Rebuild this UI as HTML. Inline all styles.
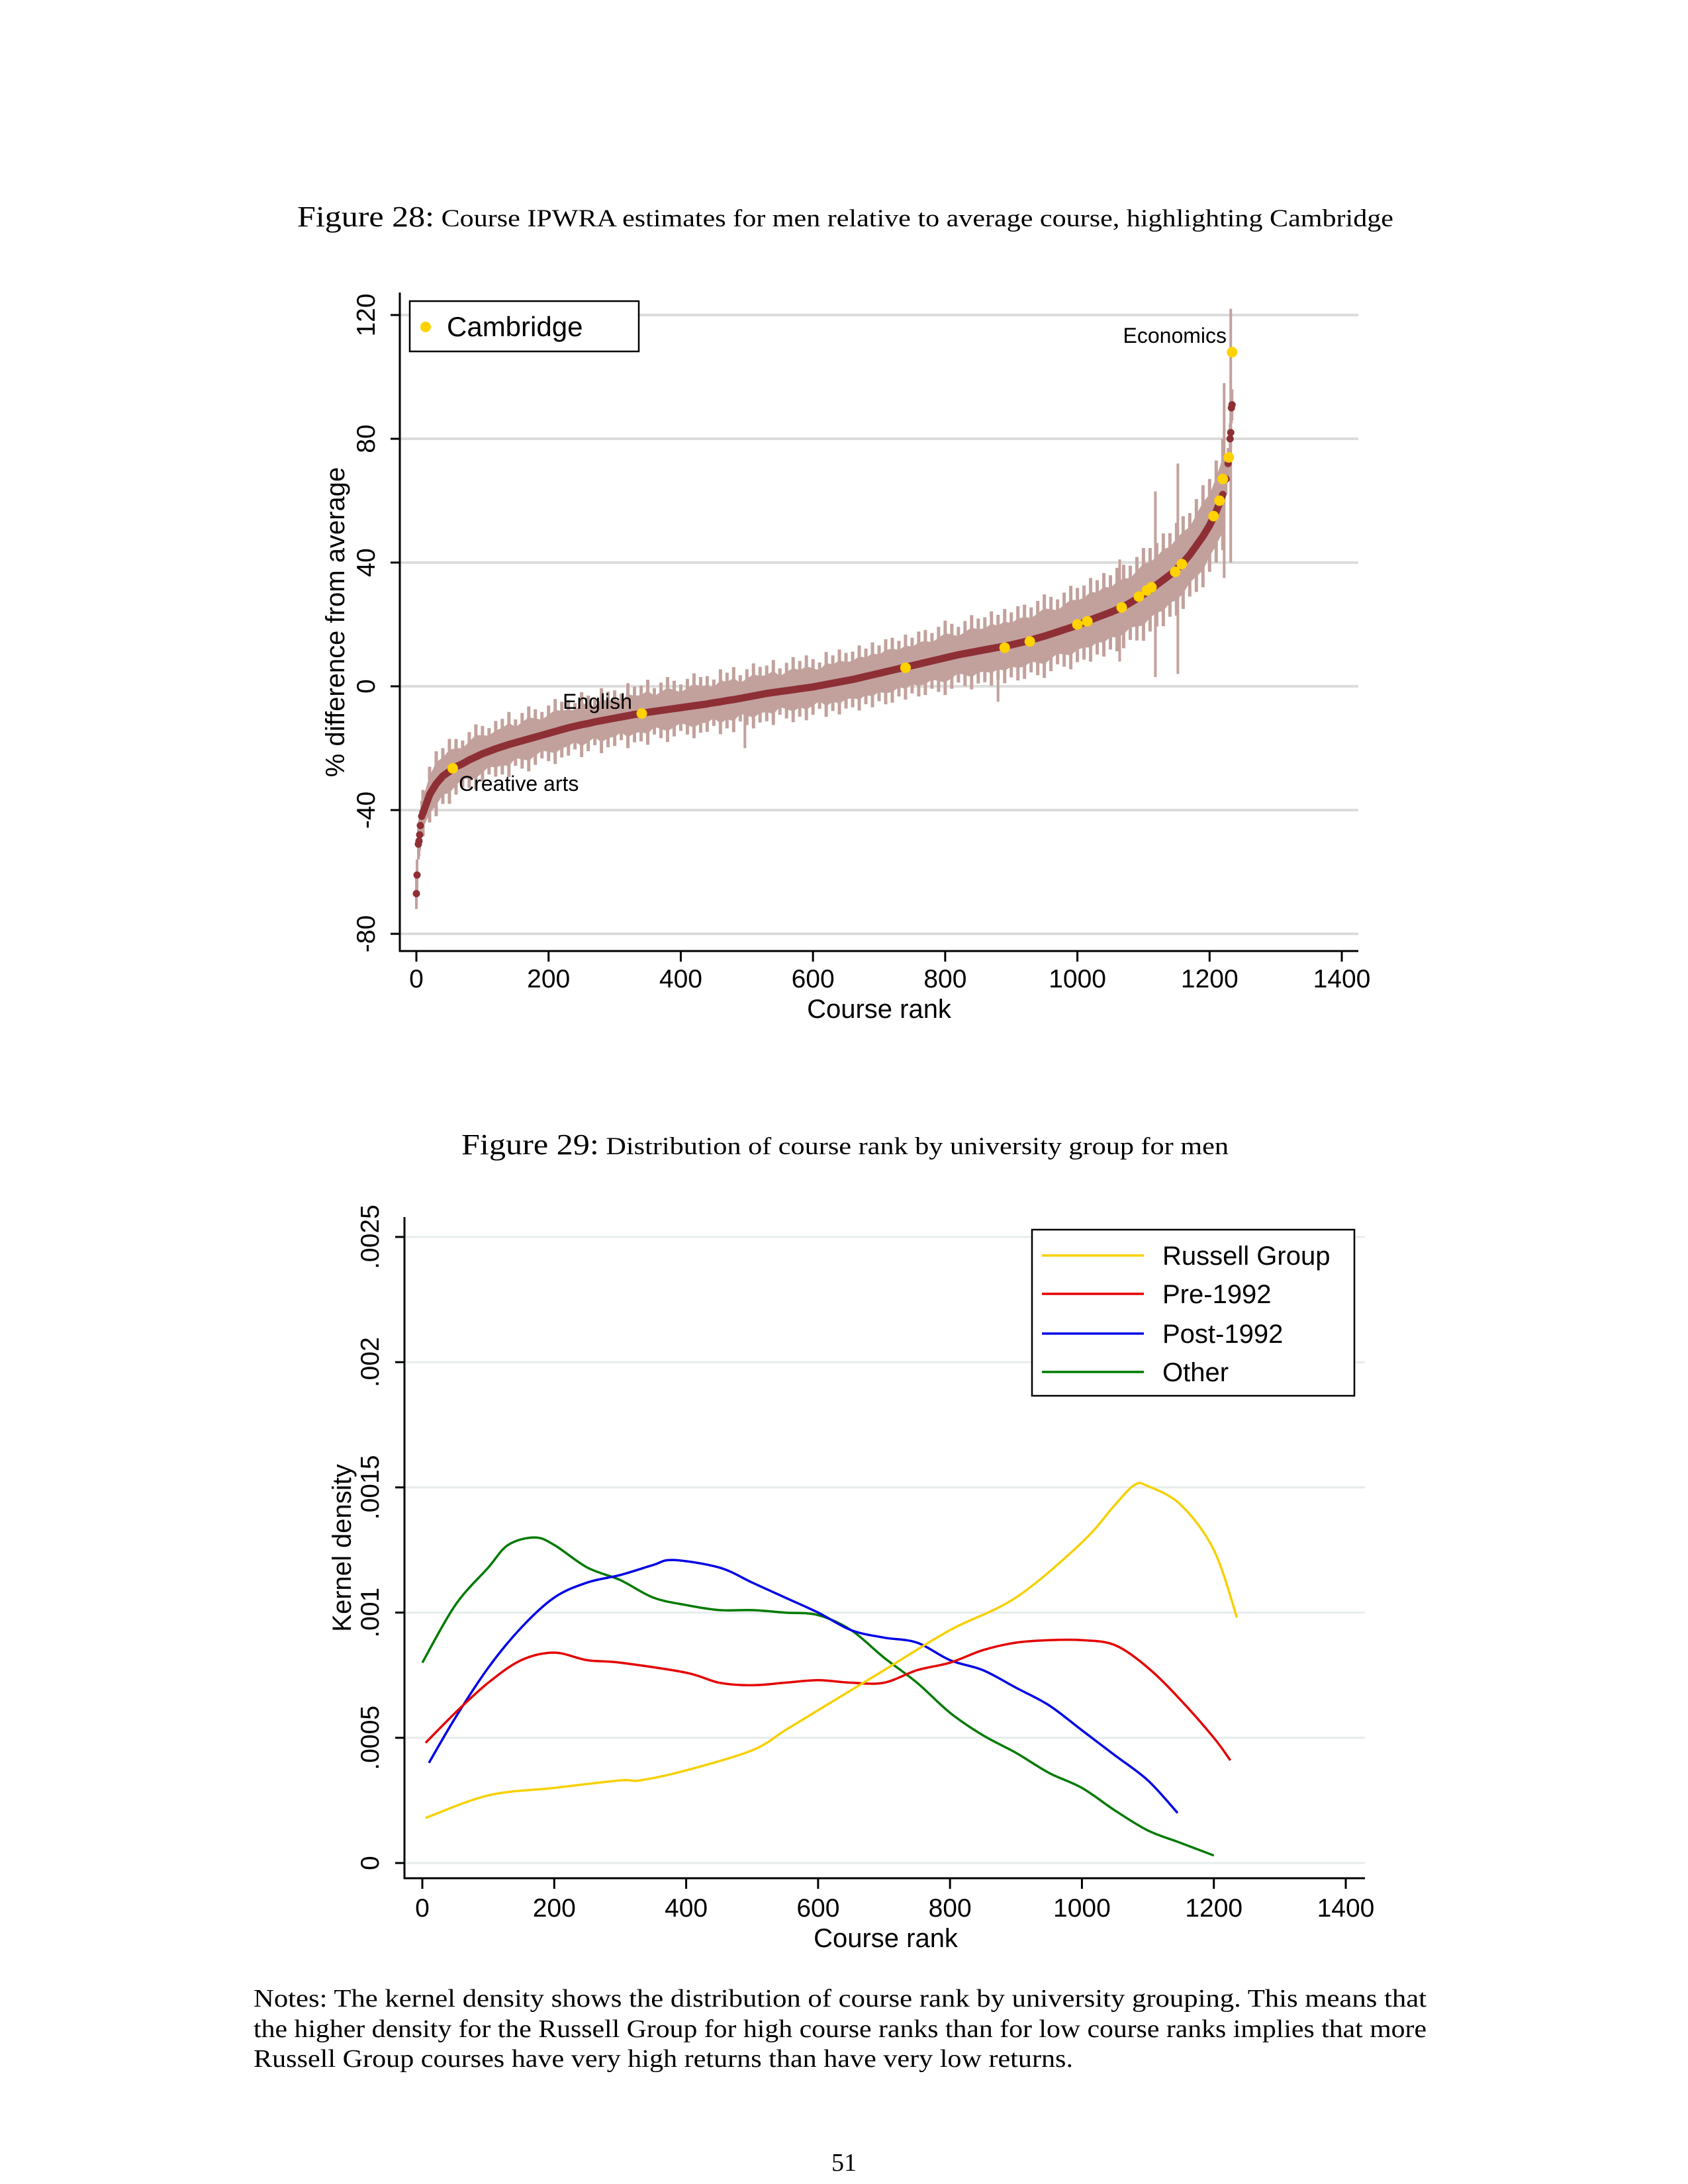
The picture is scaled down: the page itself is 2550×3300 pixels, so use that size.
<!DOCTYPE html>
<html><head><meta charset="utf-8"><style>
html,body{margin:0;padding:0;background:#fff}
svg{display:block}
.serif{font-family:"Liberation Serif",serif}
.sans{font-family:"Liberation Sans",Arial,sans-serif}
</style></head><body>
<svg id="page" width="2550" height="3300" viewBox="0 0 2550 3300" xmlns="http://www.w3.org/2000/svg">
<rect width="2550" height="3300" fill="#fff"/>
<text class="serif" x="449" y="342" textLength="1656" lengthAdjust="spacingAndGlyphs"><tspan font-size="44">Figure 28:</tspan><tspan font-size="37"> Course IPWRA estimates for men relative to average course, highlighting Cambridge</tspan></text>
<g id="c1"></g>
<text class="serif" x="697" y="1744" textLength="1159" lengthAdjust="spacingAndGlyphs"><tspan font-size="44">Figure 29:</tspan><tspan font-size="37"> Distribution of course rank by university group for men</tspan></text>
<g id="c2"></g>
<g class="serif" font-size="38">
<text x="383" y="3032" textLength="1772" lengthAdjust="spacingAndGlyphs">Notes: The kernel density shows the distribution of course rank by university grouping. This means that</text>
<text x="383" y="3078" textLength="1772" lengthAdjust="spacingAndGlyphs">the higher density for the Russell Group for high course ranks than for low course ranks implies that more</text>
<text x="383" y="3123" textLength="1238" lengthAdjust="spacingAndGlyphs">Russell Group courses have very high returns than have very low returns.</text>
</g>
<text class="serif" font-size="38" x="1275" y="3280" text-anchor="middle">51</text>
</svg>
<script>
// ---------- Figure 28 data ----------
const estRanks = [10,20,30,40,50,60,70,80,90,100,110,120,130,140,150,160,170,180,190,200,210,220,230,240,250,260,270,280,290,300,310,320,330,340,350,360,370,380,390,400,410,420,430,440,450,460,470,480,490,500,510,520,530,540,550,560,570,580,590,600,610,620,630,640,650,660,670,680,690,700,710,720,730,740,750,760,770,780,790,800,810,820,830,840,850,860,870,880,890,900,910,920,930,940,950,960,970,980,990,1000,1010,1020,1030,1040,1050,1060,1070,1080,1090,1100,1110,1120,1130,1140,1150,1160,1170,1180,1190,1200,1210,1220];
const estValues = [-41,-35,-31.5,-29,-27.5,-26,-25,-23.8,-22.8,-21.8,-21,-20.2,-19.5,-18.8,-18.2,-17.6,-17,-16.4,-15.8,-15.2,-14.6,-14,-13.4,-12.9,-12.4,-12,-11.5,-11.1,-10.7,-10.3,-9.9,-9.5,-9.1,-8.8,-8.4,-8.1,-7.8,-7.5,-7.2,-6.9,-6.6,-6.3,-6,-5.7,-5.3,-5,-4.6,-4.3,-3.9,-3.5,-3.1,-2.7,-2.3,-2,-1.7,-1.4,-1.1,-0.8,-0.5,-0.2,0.2,0.6,1,1.4,1.8,2.2,2.7,3.2,3.7,4.2,4.7,5.2,5.7,6.2,6.7,7.2,7.7,8.2,8.7,9.2,9.7,10.2,10.6,11,11.4,11.8,12.2,12.6,13,13.4,13.9,14.4,15,15.6,16.2,16.9,17.6,18.3,19,19.8,20.6,21.5,22.3,23.1,23.9,24.8,25.8,27,28.3,29.7,31.2,32.8,34.4,36,37.8,40,42.5,45.5,48.5,52,56.5,62];
const ciHalf = [5,6,7,6,7,6,5,6,7,6,5,6,6,7,5,6,7,6,5,6,7,6,6,5,7,6,5,7,6,6,5,7,6,6,7,5,6,7,6,5,6,7,6,6,5,7,6,7,5,6,7,6,6,7,5,6,7,6,7,6,5,7,6,7,6,6,7,6,7,6,7,7,6,7,6,7,7,6,7,8,7,6,7,8,7,7,8,7,8,7,8,8,7,8,9,8,7,8,9,8,8,9,8,9,8,9,9,8,9,10,9,9,10,9,10,10,9,10,11,10,11,12];
const tailRanks = [0,1,3,4,5,6,8,1225,1228,1231,1232,1233,1234];
const tailValues = [-67,-61,-51,-50,-48,-45,-42,67,72,80,82,90,91];
const spikeRanks = [497,880,1064,1118,1152,1222,1232];
const spikeLow = [-20,-5,8,3,4,35,40];
const spikeHigh = [-5,18,41,63,72,98,122];
const camRanks = [55,341,740,890,928,1000,1015,1067,1093,1105,1112,1148,1158,1206,1215,1220,1229,1234];
const camValues = [-26.5,-8.8,6,12.5,14.5,20,21,25.5,29,31,32,37,39.5,55,60,67,74,108];
const c1XTicks = [0,200,400,600,800,1000,1200,1400];
const c1YTicks = [-80,-40,0,40,80,120];

// ---------- Figure 29 data ----------
const rgRanks = [5,100,200,300,330,400,500,550,600,700,800,900,1000,1050,1080,1100,1150,1200,1235];
const rgValues = [1.8,2.7,3.0,3.3,3.3,3.7,4.5,5.3,6.1,7.7,9.3,10.6,12.8,14.3,15.1,15.05,14.3,12.5,9.8];
const preRanks = [5,50,100,150,200,250,300,400,450,500,550,600,650,700,750,800,850,900,950,1000,1050,1100,1150,1200,1225];
const preValues = [4.8,6.0,7.2,8.1,8.4,8.1,8.0,7.6,7.2,7.1,7.2,7.3,7.2,7.2,7.7,8.0,8.5,8.8,8.9,8.9,8.7,7.8,6.5,5.0,4.1];
const postRanks = [10,50,100,150,200,250,300,350,380,450,500,550,600,650,700,750,800,850,900,950,1000,1050,1100,1145];
const postValues = [4.0,5.8,7.8,9.4,10.6,11.2,11.5,11.9,12.1,11.8,11.2,10.6,10.0,9.3,9.0,8.8,8.1,7.7,7.0,6.3,5.3,4.3,3.3,2.0];
const otherRanks = [0,50,100,130,170,200,250,300,350,400,450,500,550,600,650,700,750,800,850,900,950,1000,1050,1100,1150,1200];
const otherValues = [8.0,10.3,11.8,12.7,13.0,12.7,11.8,11.3,10.6,10.3,10.1,10.1,10.0,9.9,9.3,8.2,7.2,6.0,5.1,4.4,3.6,3.0,2.1,1.3,0.8,0.3];
const c2XTicks = [0,200,400,600,800,1000,1200,1400];
const c2YTicks = [0,5,10,15,20,25];
const c2YLabels = ["0",".0005",".001",".0015",".002",".0025"];
const seriesNames = ["Russell Group","Pre-1992","Post-1992","Other"];

const NS = "http://www.w3.org/2000/svg";
function mk(parent, tag, attrs, text){
  const e = document.createElementNS(NS, tag);
  for (const k in attrs) e.setAttribute(k, attrs[k]);
  if (text !== undefined) e.textContent = text;
  parent.appendChild(e); return e;
}

// ---------- Chart 1 ----------
(function(){
  const g = document.getElementById('c1');
  const x = r => 629 + (r) * (2027 - 629) / 1400;
  const y = v => 1037 - v * (1037 - 476) / 120;
  c1YTicks.forEach(t => {
    const l = mk(g,'line',{x1:604,x2:2052,y1:y(t),y2:y(t),stroke:'#dcdcdc','stroke-width':4});
    
    
    const tk = mk(g,'line',{x1:590,x2:604,y1:y(t),y2:y(t),stroke:'#000','stroke-width':3});
    
    
    const tx = mk(g,'text',{x:0,y:0,'font-size':39,'text-anchor':'middle',class:'sans',transform:`translate(566,${y(t)}) rotate(-90)`},String(t));
    
    
  });
  let up = estRanks.map((r,i)=>`${x(r)},${y(estValues[i]+ciHalf[i]*1.0)}`);
  let lo = estRanks.map((r,i)=>`${x(r)},${y(estValues[i]-ciHalf[i]*1.0)}`).reverse();
  const band = mk(g,'polygon',{points:up.concat(lo).join(' '),fill:'#c2a19d'});
  
  
  estRanks.forEach((r,i)=>{
    const s = mk(g,'line',{x1:x(r),x2:x(r),y1:y(estValues[i]-ciHalf[i]*1.5),y2:y(estValues[i]+ciHalf[i]*1.5),stroke:'#c2a19d','stroke-width':5});
    
    
  });
  spikeRanks.forEach((r,i)=>{
    const s = mk(g,'line',{x1:x(r),x2:x(r),y1:y(spikeLow[i]),y2:y(spikeHigh[i]),stroke:'#c2a19d','stroke-width':4});
    
    
  });
  tailRanks.forEach((r,i)=>{
    const s = mk(g,'line',{x1:x(r),x2:x(r),y1:y(tailValues[i]-5),y2:y(tailValues[i]+5),stroke:'#c2a19d','stroke-width':4});
    
    
  });
  const pts = estRanks.map((r,i)=>`${x(r)},${y(estValues[i])}`).join(' ');
  const ln = mk(g,'polyline',{points:pts,fill:'none',stroke:'#8e2f35','stroke-width':11,'stroke-linecap':'round','stroke-linejoin':'round'});
  
  
  tailRanks.forEach((r,i)=>{
    const c = mk(g,'circle',{cx:x(r),cy:y(tailValues[i]),r:5.5,fill:'#8e2f35'});
    
    
  });
  camRanks.forEach((r,i)=>{
    const c = mk(g,'circle',{cx:x(r),cy:y(camValues[i]),r:8,fill:'#ffd200'});
    
    
  });
  const ya = mk(g,'line',{x1:604,x2:604,y1:442,y2:1438,stroke:'#000','stroke-width':3});
  
  
  const xa = mk(g,'line',{x1:603,x2:2052,y1:1437,y2:1437,stroke:'#000','stroke-width':3});
  
  
  c1XTicks.forEach(t=>{
    const tk = mk(g,'line',{x1:x(t),x2:x(t),y1:1437,y2:1453,stroke:'#000','stroke-width':3});
    
    
    const tx = mk(g,'text',{x:x(t),y:1492,'font-size':39,'text-anchor':'middle',class:'sans'},String(t));
    
    
  });
  const xt = mk(g,'text',{x:1328,y:1538,'font-size':40,'text-anchor':'middle',class:'sans'},'Course rank');
  
  
  const yt = mk(g,'text',{x:0,y:0,'font-size':40,'text-anchor':'middle',class:'sans',transform:'translate(520,940) rotate(-90)'},'% difference from average');
  
  
  const a1 = mk(g,'text',{x:1853,y:518,'font-size':32,'text-anchor':'end',class:'sans'},'Economics');
  
  
  const a2 = mk(g,'text',{x:850,y:1071,'font-size':32,class:'sans'},'English');
  
  
  const a3 = mk(g,'text',{x:693,y:1195,'font-size':32,class:'sans'},'Creative arts');
  
  
  const lg = mk(g,'g',{});
  
  
  mk(lg,'rect',{x:619,y:455,width:346,height:76,fill:'#fff',stroke:'#000','stroke-width':2.5});
  const ld = mk(lg,'circle',{cx:643,cy:494,r:8,fill:'#ffd200'});
  
  
  const lt = mk(lg,'text',{x:675,y:508,'font-size':42,class:'sans'},'Cambridge');
  
  
})();

// ---------- Chart 2 ----------
(function(){
  const g = document.getElementById('c2');
  const x = r => 638 + r * (2033 - 638) / 1400;
  const y = v => 2815 - v * (2815 - 1869) / 25;
  c2YTicks.forEach((t,i)=>{
    const l = mk(g,'line',{x1:611,x2:2062,y1:y(t),y2:y(t),stroke:'#e6ecec','stroke-width':3});
    
    
    const tk = mk(g,'line',{x1:597,x2:611,y1:y(t),y2:y(t),stroke:'#000','stroke-width':3});
    
    
    const tx = mk(g,'text',{x:0,y:0,'font-size':39,'text-anchor':'middle',class:'sans',transform:`translate(572,${y(t)}) rotate(-90)`},c2YLabels[i]);
    
    
  });
  function smooth(rs, vs){
    const p = rs.map((r,i)=>[x(r),y(vs[i])]);
    let d = `M${p[0][0]},${p[0][1]}`;
    for (let i=0;i<p.length-1;i++){
      const p0=p[Math.max(0,i-1)],p1=p[i],p2=p[i+1],p3=p[Math.min(p.length-1,i+2)];
      const c1=[p1[0]+(p2[0]-p0[0])/6,p1[1]+(p2[1]-p0[1])/6];
      const c2=[p2[0]-(p3[0]-p1[0])/6,p2[1]-(p3[1]-p1[1])/6];
      d += ` C${c1[0]},${c1[1]} ${c2[0]},${c2[1]} ${p2[0]},${p2[1]}`;
    }
    return d;
  }
  const colors = ['#f7d000','#e40000','#0000e6','#007a00'];
  const sets = [[rgRanks,rgValues],[preRanks,preValues],[postRanks,postValues],[otherRanks,otherValues]];
  const names = ['russell-group-line','pre-1992-line','post-1992-line','other-line'];
  [3,2,1,0].forEach(k=>{
    const p = mk(g,'path',{d:smooth(sets[k][0],sets[k][1]),fill:'none',stroke:colors[k],'stroke-width':3.5});
    
    
  });
  const ya = mk(g,'line',{x1:611,x2:611,y1:1839,y2:2839,stroke:'#000','stroke-width':3});
  
  
  const xa = mk(g,'line',{x1:610,x2:2062,y1:2838,y2:2838,stroke:'#000','stroke-width':3});
  
  
  c2XTicks.forEach(t=>{
    const tk = mk(g,'line',{x1:x(t),x2:x(t),y1:2838,y2:2854,stroke:'#000','stroke-width':3});
    
    
    const tx = mk(g,'text',{x:x(t),y:2896,'font-size':39,'text-anchor':'middle',class:'sans'},String(t));
    
    
  });
  const xt = mk(g,'text',{x:1338,y:2942,'font-size':40,'text-anchor':'middle',class:'sans'},'Course rank');
  
  
  const yt = mk(g,'text',{x:0,y:0,'font-size':40,'text-anchor':'middle',class:'sans',transform:'translate(530,2339) rotate(-90)'},'Kernel density');
  
  
  const lg = mk(g,'g',{});
  
  
  mk(lg,'rect',{x:1559,y:1858,width:487,height:251,fill:'#fff',stroke:'#000','stroke-width':2.5});
  const rowY = [1897,1955,2015,2073];
  seriesNames.forEach((n,i)=>{
    const l = mk(lg,'line',{x1:1574,x2:1728,y1:rowY[i],y2:rowY[i],stroke:colors[i],'stroke-width':3.5});
    
    
    const t = mk(lg,'text',{x:1756,y:rowY[i]+14,'font-size':40,class:'sans'},n);
    
    
  });
})();
</script>
</body></html>
